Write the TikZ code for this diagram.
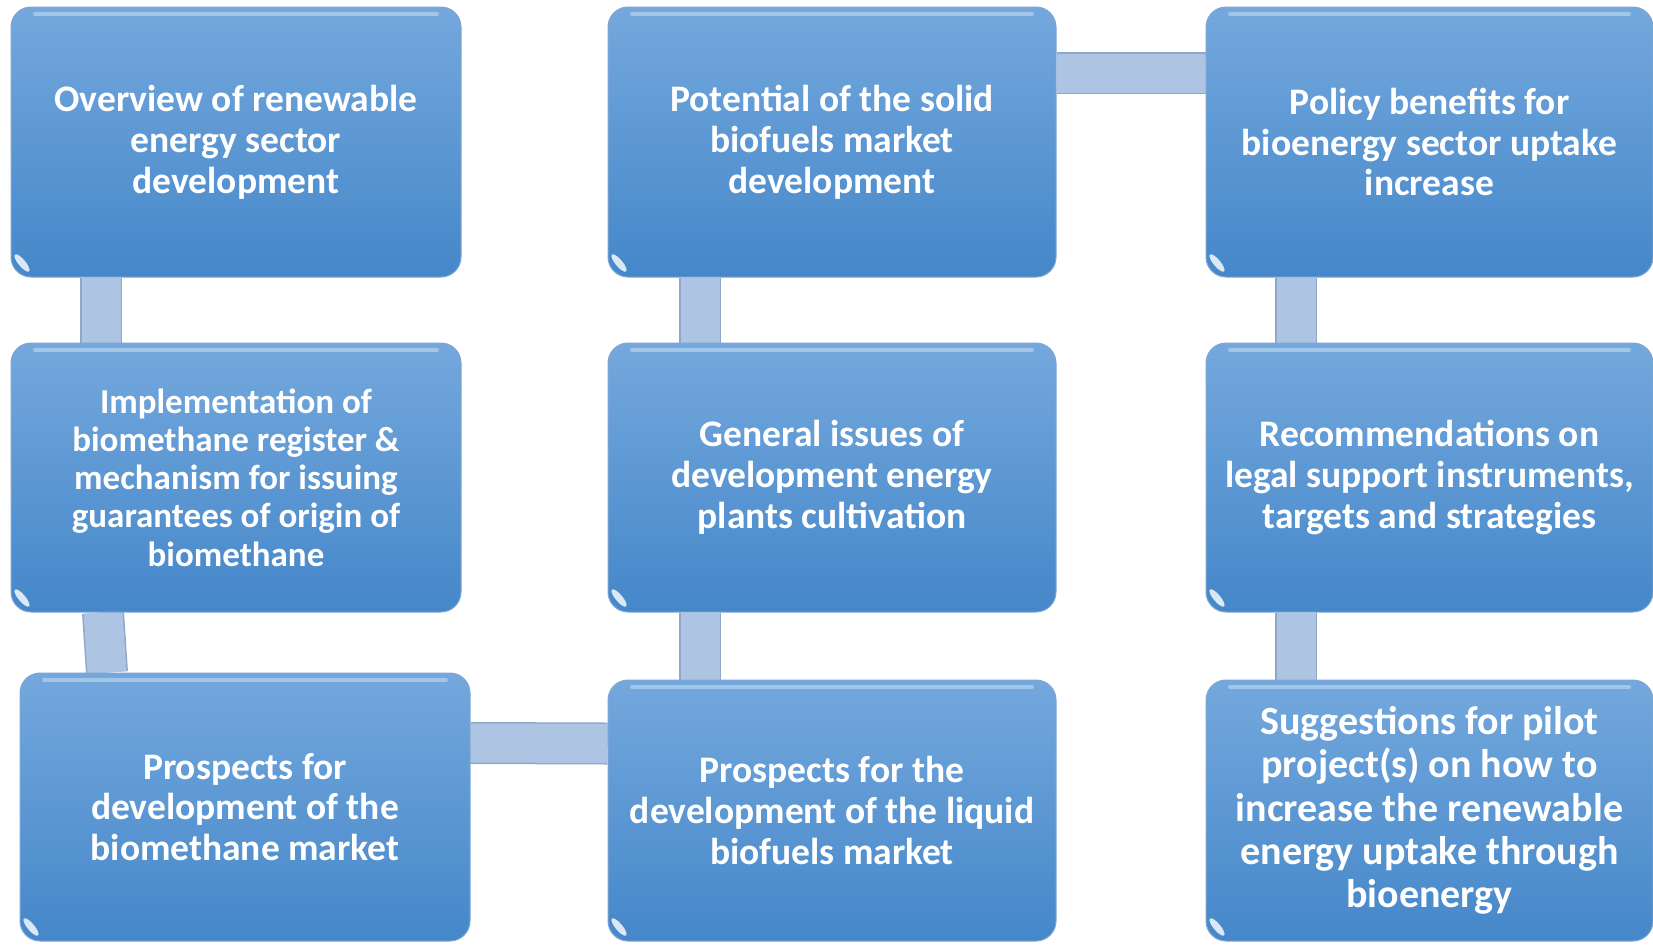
\documentclass[tikz,border=0pt]{standalone}
\usepackage{fontspec}
\setmainfont{Carlito}
\usetikzlibrary{backgrounds}
\definecolor{boxtop}{HTML}{74A8DD}
\definecolor{boxbot}{HTML}{4587C9}
\definecolor{boxedge}{HTML}{7EA7D4}
\definecolor{barc}{HTML}{ADC5E3}
\definecolor{baredge}{HTML}{8FA8C8}
\tikzset{
  box/.style={rectangle, rounded corners=20pt, top color=boxtop, bottom color=boxbot,
    draw=boxedge, line width=1pt, text=white, align=center,
    font=\bfseries\fontsize{37.5}{40.8}\selectfont, inner sep=0pt,
    minimum width=448pt,
    path picture={
      \draw[white, opacity=.35, line width=4pt, line cap=round]
        ([xshift=24pt,yshift=-7pt]path picture bounding box.north west) --
        ([xshift=-24pt,yshift=-7pt]path picture bounding box.north east);
      \fill[white, opacity=.8]
        ([xshift=11pt,yshift=14pt]path picture bounding box.south west)
        ellipse[x radius=11pt, y radius=3.5pt, rotate=-50];
    }},
  baredge/.style={line width=42pt, draw=baredge},
  barfill/.style={line width=39pt, draw=barc},
}
\begin{document}
\begin{tikzpicture}[x=1pt, y=-1pt]
\useasboundingbox (0,0) rectangle (1653,945);

\node[box, minimum width=450pt, minimum height=270pt] (b1) at (236,142)
  {Overview of renewable\\energy sector\\development};
\node[box, minimum width=450pt, minimum height=269pt,
  font=\bfseries\fontsize{35}{38.2}\selectfont] (b2) at (236,477.5)
  {Implementation of\\biomethane register \&\\mechanism for issuing\\guarantees of origin of\\biomethane};
\node[box, minimum width=450pt, minimum height=268pt] (b3) at (245,807)
  {Prospects for\\development of the\\biomethane market};

\node[box, minimum height=270pt] (b4) at (832,142)
  {Potential of the solid\\biofuels market\\development};
\node[box, minimum height=269pt] (b5) at (832,477.5)
  {General issues of\\development energy\\plants cultivation};
\node[box, minimum height=261pt] (b6) at (832,810.5)
  {Prospects for the\\development of the liquid\\biofuels market};

\node[box, minimum width=447pt, minimum height=270pt] (b7) at (1429.5,142)
  {Policy benefits for\\bioenergy sector uptake\\increase};
\node[box, minimum width=447pt, minimum height=269pt] (b8) at (1429.5,477.5)
  {Recommendations on\\legal support instruments,\\targets and strategies};
\node[box, minimum width=447pt, minimum height=261pt,
  font=\bfseries\fontsize{40}{43.2}\selectfont] (b9) at (1429.5,810.5)
  {Suggestions for pilot\\project(s) on how to\\increase the renewable\\energy uptake through\\bioenergy};

\begin{scope}[on background layer]
  \fill[white] (0,0) rectangle (1653,945);
  \foreach \s in {baredge, barfill} {
    \draw[\s] ([xshift=-135pt]b1.south) -- ([xshift=-135pt]b2.north);
    \draw[\s] ([xshift=-133pt]b2.south) -- ([xshift=-138pt]b3.north);
    \draw[\s] ([yshift=64pt]b3.east) -- ([yshift=67pt]b6.west);
    \draw[\s] ([xshift=-132pt]b6.north) -- ([xshift=-132pt]b5.south);
    \draw[\s] ([xshift=-132pt]b5.north) -- ([xshift=-132pt]b4.south);
    \draw[\s] ([yshift=69pt]b4.east) -- ([yshift=69pt]b7.west);
    \draw[\s] ([xshift=-133.5pt]b7.south) -- ([xshift=-133.5pt]b8.north);
    \draw[\s] ([xshift=-133.5pt]b8.south) -- ([xshift=-133.5pt]b9.north);
  }
\end{scope}
\end{tikzpicture}
\end{document}
